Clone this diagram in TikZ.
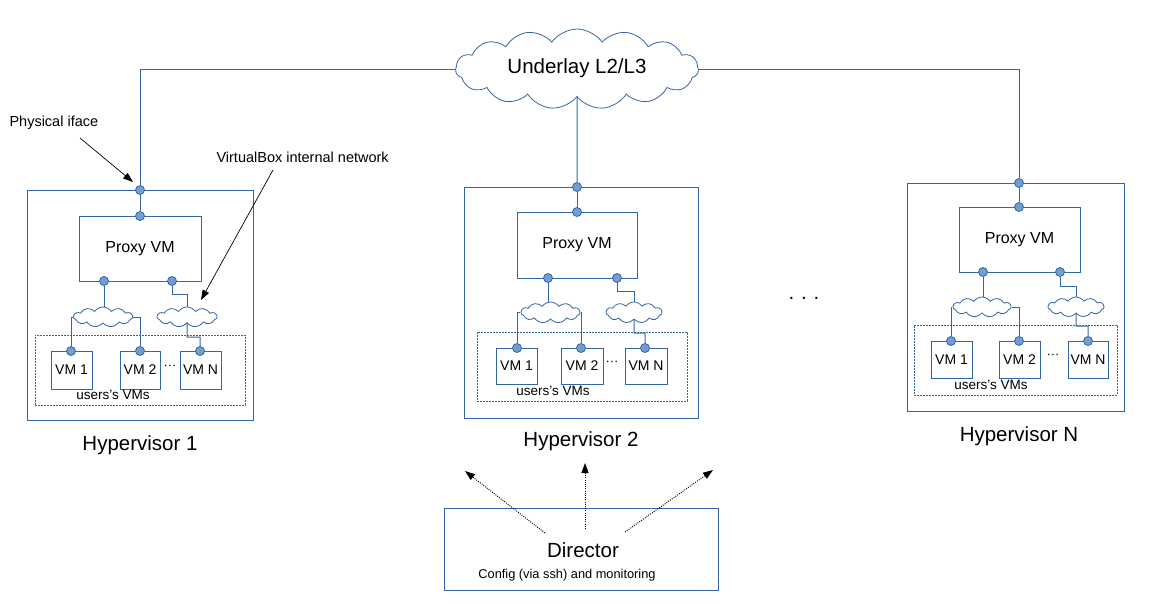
\documentclass[tikz,border=0pt]{standalone}
\usepackage{fontspec}
\setmainfont{Liberation Sans}
\usetikzlibrary{shapes.symbols,arrows.meta}
\definecolor{lblue}{HTML}{3465A4}
\definecolor{pfill}{HTML}{729FCF}
\tikzset{
  box/.style={draw=lblue,line width=0.9pt,rectangle,inner sep=0pt},
  port/.style={circle,draw=lblue,fill=pfill,line width=0.8pt,minimum size=9pt,inner sep=0pt},
  wire/.style={draw=lblue,line width=1pt},
  cl/.style={cloud,cloud puffs=11,cloud puff arc=110,draw=lblue,line width=0.8pt,inner sep=0pt,fill=white},
  grp/.style={draw=lblue,line width=0.8pt,dash pattern=on 1.6pt off 1.4pt,rectangle,inner sep=0pt},
  vmf/.style={font=\fontsize{14}{16}\selectfont},
  dotf/.style={font=\fontsize{13}{14}\selectfont,inner sep=0pt},
  pxf/.style={font=\fontsize{16}{19}\selectfont},
  hvf/.style={font=\fontsize{20.5}{24}\selectfont},
  lab/.style={font=\fontsize{13.5}{16}\selectfont},
  note/.style={font=\fontsize{14.5}{17}\selectfont},
  blk/.style={draw=black,line width=0.7pt,-{Triangle[length=10pt,width=7pt]}},
  dotarr/.style={draw=black,line width=0.9pt,dash pattern=on 1pt off 1.2pt,-{Triangle[length=10pt,width=7pt]}},
}
\newcommand{\mydots}{\textperiodcentered\textperiodcentered\textperiodcentered}
\begin{document}
\begin{tikzpicture}[x=1pt,y=-1pt]
\useasboundingbox (0,0) rectangle (1173,603);

% Underlay cloud
\node[cl,cloud puffs=15,minimum width=243pt,minimum height=80pt] (under) at (577,69) {};
\node[hvf] (undertxt) at (577,68) {Underlay L2/L3};

% ---------------- Hypervisor 1 ----------------
\node[box,minimum width=226pt,minimum height=230pt] (hv1) at (140,305) {};
\node[box,minimum width=122pt,minimum height=65pt,pxf] (px1) at (140,248.5) {Proxy VM};
\node[cl,minimum width=59pt,minimum height=20pt] (c1a) at (103,317) {};
\node[cl,minimum width=60pt,minimum height=20pt] (c1b) at (187,317) {};
\node[grp,minimum width=210pt,minimum height=70pt] (g1) at (140,370) {};
\node[box,minimum width=41pt,minimum height=38pt,vmf] (v1a) at (71.5,370) {VM 1};
\node[box,minimum width=40pt,minimum height=38pt,vmf] (v1b) at (140,370) {VM 2};
\node[box,minimum width=41pt,minimum height=38pt,vmf] (v1n) at (200.5,370) {VM N};
\node[dotf] (d1) at (170,367) {\mydots};
\node[lab] (u1) at (113,395) {users’s VMs};
\node[port] (p1t) at (140,190) {};
\node[port] (p1a) at (140,216) {};
\node[port] (p1b) at (104,281) {};
\node[port] (p1c) at (172,281) {};
\node[port] (q1a) at (71,351) {};
\node[port] (q1b) at (140,351) {};
\node[port] (q1n) at (200,351) {};
\node[hvf] (h1) at (140,445) {Hypervisor 1};
\draw[wire] (p1t) -- (p1a);
\draw[wire] (p1b) -- (c1a.north -| p1b);
\draw[wire] (q1a) |- (c1a.west);
\draw[wire] (q1b) |- (c1a.east);
\draw[wire] (p1c) -- (172,294) -| (c1b.north);
\draw[wire] (c1b.south) -- (187,337) -| (q1n);

% ---------------- Hypervisor 2 ----------------
\node[box,minimum width=234pt,minimum height=231pt] (hv2) at (581,302.5) {};
\node[box,minimum width=120pt,minimum height=66pt,pxf] (px2) at (577,245) {Proxy VM};
\node[cl,minimum width=59pt,minimum height=21pt] (c2a) at (550.5,312.5) {};
\node[cl,minimum width=56pt,minimum height=21pt] (c2b) at (634,312.5) {};
\node[grp,minimum width=210pt,minimum height=69pt] (g2) at (582,366.5) {};
\node[box,minimum width=41pt,minimum height=36pt,vmf] (v2a) at (516.5,366) {VM 1};
\node[box,minimum width=42pt,minimum height=36pt,vmf] (v2b) at (582,366) {VM 2};
\node[box,minimum width=42pt,minimum height=36pt,vmf] (v2n) at (646,366) {VM N};
\node[dotf] (d2) at (612,363) {\mydots};
\node[lab] (u2) at (553,391) {users’s VMs};
\node[port] (p2t) at (577,187) {};
\node[port] (p2a) at (577,212) {};
\node[port] (p2b) at (548,278) {};
\node[port] (p2c) at (617,278) {};
\node[port] (q2a) at (517,348) {};
\node[port] (q2b) at (581,348) {};
\node[port] (q2n) at (645,348) {};
\node[hvf] (h2) at (581,441) {Hypervisor 2};
\draw[wire] (p2t) -- (p2a);
\draw[wire] (p2b) -- (c2a.north -| p2b);
\draw[wire] (q2a) |- (c2a.west);
\draw[wire] (q2b) |- (c2a.east);
\draw[wire] (p2c) -- (617,291) -| (c2b.north);
\draw[wire] (c2b.south) -- (634,333) -| (q2n);

% ---------------- Hypervisor N ----------------
\node[box,minimum width=217pt,minimum height=228pt] (hvn) at (1015.5,297) {};
\node[box,minimum width=121pt,minimum height=65pt,pxf] (pxn) at (1019.5,239.5) {Proxy VM};
\node[cl,minimum width=58pt,minimum height=20pt] (cna) at (982,307) {};
\node[cl,minimum width=56pt,minimum height=20pt] (cnb) at (1076,307) {};
\node[grp,minimum width=203pt,minimum height=70pt] (gn) at (1015.5,360) {};
\node[box,minimum width=41pt,minimum height=37pt,vmf] (vna) at (951.5,359.5) {VM 1};
\node[box,minimum width=41pt,minimum height=37pt,vmf] (vnb) at (1019.5,359.5) {VM 2};
\node[box,minimum width=40pt,minimum height=37pt,vmf] (vnn) at (1088,359.5) {VM N};
\node[dotf] (dn) at (1053,356) {\mydots};
\node[lab] (un) at (991,385) {users’s VMs};
\node[port] (pnt) at (1019,183) {};
\node[port] (pna) at (1019,207) {};
\node[port] (pnb) at (983,272) {};
\node[port] (pnc) at (1060,272) {};
\node[port] (qna) at (951,341) {};
\node[port] (qnb) at (1019,341) {};
\node[port] (qnn) at (1088,341) {};
\node[hvf] (hn) at (1019,436) {Hypervisor N};
\draw[wire] (pnt) -- (pna);
\draw[wire] (pnb) -- (cna.north -| pnb);
\draw[wire] (qna) |- (cna.west);
\draw[wire] (qnb) |- (cna.east);
\draw[wire] (pnc) -- (1060,286) -| (cnb.north);
\draw[wire] (cnb.south) -- (1076,326) -| (qnn);

% underlay links
\draw[wire] (p1t) |- (under.west);
\draw[wire] (under.east) -| (pnt);
\draw[wire] (under.south) -- (p2t);

% middle dots
\node[hvf] (mid) at (804,298) {.\,\,.\,\,.};

% annotations
\node[note,anchor=west] (phys) at (6,123) {Physical iface};
\coordinate (physA) at (80,138);
\coordinate (physB) at (133,182);
\draw[blk] (physA) -- (physB);
\node[note,anchor=west] (vbox) at (213,157) {VirtualBox internal network};
\coordinate (vbA) at (273,170);
\coordinate (vbB) at (201,300);
\draw[blk] (vbA) -- (vbB);

% Director
\node[box,minimum width=274pt,minimum height=82pt] (dir) at (581,549) {};
\node[hvf] (dirt) at (583,550) {Director};
\node[font=\fontsize{12.8}{15}\selectfont] (dirc) at (567,575) {Config (via ssh) and monitoring};
\coordinate (a1s) at (545,533);
\coordinate (a1e) at (465,471);
\coordinate (a2s) at (585,529);
\coordinate (a2e) at (585,463);
\coordinate (a3s) at (625,532);
\coordinate (a3e) at (713,470);
\draw[dotarr] (a1s) -- (a1e);
\draw[dotarr] (a2s) -- (a2e);
\draw[dotarr] (a3s) -- (a3e);
\end{tikzpicture}
\end{document}
